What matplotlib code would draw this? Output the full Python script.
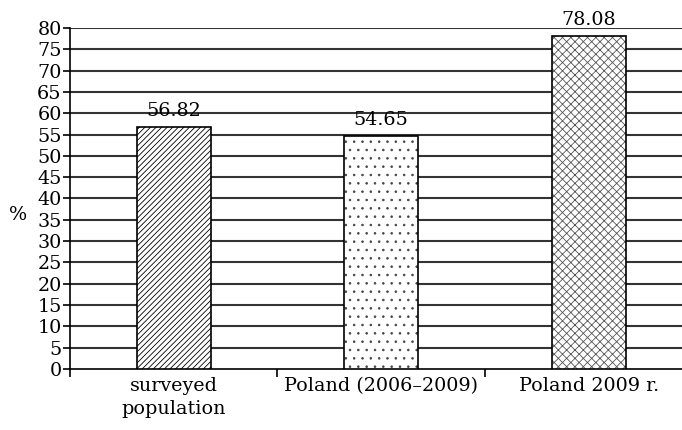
import matplotlib
matplotlib.use("Agg")
import matplotlib.pyplot as plt
import numpy as np

categories = ["surveyed\npopulation", "Poland (2006\u20132009)", "Poland 2009 r."]
values = [56.82, 54.65, 78.08]
labels = ["56.82", "54.65", "78.08"]
hatches = ["//////", "..", "xxxx"]
hatch_colors = ["black", "#444444", "#555555"]

plt.rcParams["font.family"] = ["DejaVu Serif"]
plt.rcParams["hatch.linewidth"] = 0.6

fig = plt.figure(figsize=(6.82, 4.30), dpi=100)
ax = fig.add_axes([0.1026, 0.1419, 0.9127, 0.7930])

x = np.arange(len(categories))
for xi, v, h, hc in zip(x, values, hatches, hatch_colors):
    ax.bar(xi, v, width=0.357, color="white", edgecolor=hc, hatch=h, linewidth=0, zorder=3)
    ax.bar(xi, v, width=0.357, color="none", edgecolor="black", linewidth=1.2, zorder=4)

for xi, v, t in zip(x, values, labels):
    ax.text(xi, v + 1.6, t, ha="center", va="bottom", fontsize=13.8)

ax.set_xlim(-0.5, 2.5)
ax.set_ylim(0, 80)
ax.set_yticks(np.arange(0, 81, 5))
ax.tick_params(axis="y", labelsize=13.8, length=5, width=1.2, pad=1)
for yv in np.arange(5, 81, 5):
    ax.axhline(yv, color="#333333", linewidth=1.5, zorder=1)

ax.set_xticks([-0.5, 0.5, 1.5])
ax.set_xticklabels([])
ax.tick_params(axis="x", length=6, width=1.2)
for xi, c in zip(x, categories):
    ax.text(xi, -1.8, c, ha="center", va="top", fontsize=13.8, linespacing=1.35)

ax.spines["top"].set_visible(False)
ax.spines["right"].set_visible(False)
ax.spines["left"].set_linewidth(1.2)
ax.spines["bottom"].set_linewidth(1.2)

fig.text(0.027, 0.5, "%", ha="center", va="center", fontsize=13.8)

fig.savefig("out.png", dpi=100)
